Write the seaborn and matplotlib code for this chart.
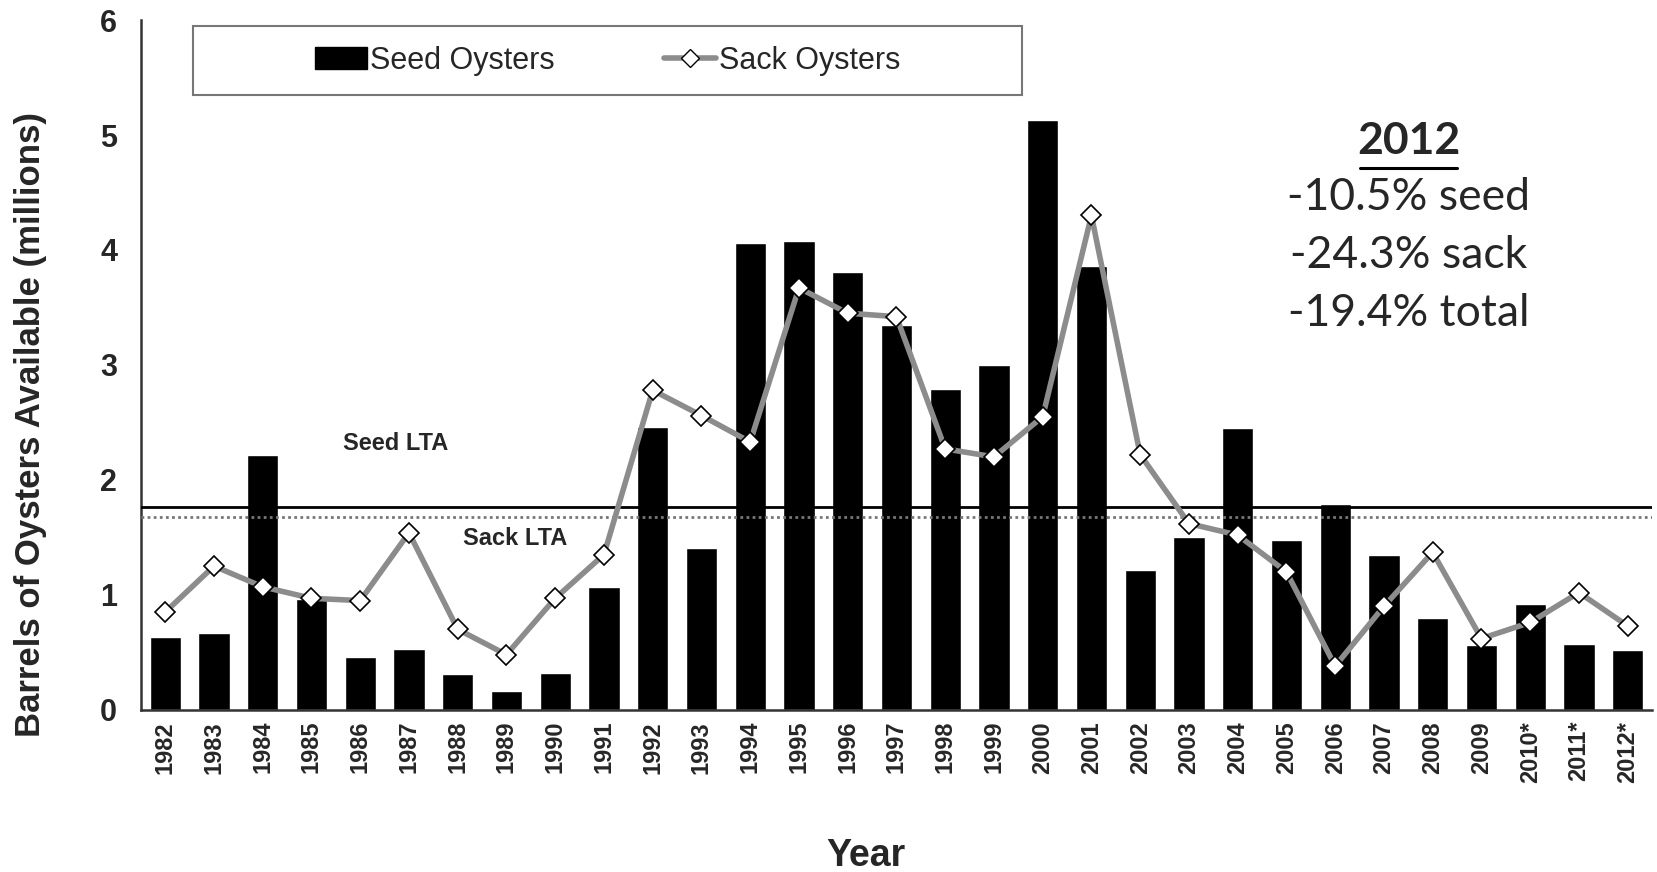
import matplotlib
matplotlib.use("Agg")
import matplotlib.pyplot as plt
import seaborn as sns
import pandas as pd
from matplotlib.patches import Patch, Rectangle
from matplotlib.lines import Line2D

# --- data (millions of barrels) ---
years = ['1982', '1983', '1984', '1985', '1986', '1987', '1988', '1989', '1990', '1991',
         '1992', '1993', '1994', '1995', '1996', '1997', '1998', '1999', '2000', '2001',
         '2002', '2003', '2004', '2005', '2006', '2007', '2008', '2009', '2010*', '2011*', '2012*']
seed = [0.63, 0.67, 2.22, 0.96, 0.46, 0.53, 0.31, 0.16, 0.32, 1.07,
        2.46, 1.41, 4.06, 4.08, 3.81, 3.35, 2.79, 3.00, 5.13, 3.86,
        1.22, 1.50, 2.45, 1.48, 1.79, 1.35, 0.80, 0.56, 0.92, 0.57, 0.52]
sack = [0.85, 1.25, 1.07, 0.97, 0.95, 1.54, 0.70, 0.48, 0.97, 1.35,
        2.78, 2.56, 2.33, 3.67, 3.45, 3.42, 2.27, 2.20, 2.55, 4.30,
        2.22, 1.62, 1.52, 1.20, 0.38, 0.90, 1.37, 0.62, 0.76, 1.02, 0.73]
seed_lta = 1.76
sack_lta = 1.68
notes = ['-10.5% seed', '-24.3% sack', '-19.4% total']

df = pd.DataFrame({'year': years, 'seed': seed, 'sack': sack, 'pos': range(len(years))})

sns.set_style('white')
plt.rcParams['font.family'] = ['Liberation Sans', 'DejaVu Sans']

fig = plt.figure(figsize=(16.57, 8.72), dpi=100)
ax = fig.add_axes([0.085, 0.186, 0.912, 0.791])

sns.barplot(data=df, x='year', y='seed', color='black', width=0.64, saturation=1, ax=ax)
ax.axhline(seed_lta, color='black', lw=2, zorder=3)
ax.axhline(sack_lta, color='#777777', lw=2, ls=(0, (1, 1.2)), zorder=3)
sns.lineplot(data=df, x='pos', y='sack', color='#8c8c8c', lw=4, marker='D', markersize=10,
             markerfacecolor='white', markeredgecolor='black', markeredgewidth=1.2, ax=ax, zorder=4)

ax.set_xlim(-0.5, len(years) - 0.5)
ax.set_ylim(0, 6)
ax.set_yticks(range(7))
ax.set_xticks([i - 0.5 for i in range(len(years) + 1)], minor=True)
ax.tick_params(axis='x', which='major', length=0, pad=8)
ax.tick_params(axis='x', which='minor', direction='inout', length=14, width=1.2, color='#333333')
ax.tick_params(axis='y', direction='inout', length=22, width=1.5, color='#333333', pad=6)
for lab in ax.get_xticklabels():
    lab.set_rotation(90)
    lab.set_fontweight('bold')
    lab.set_fontsize(17)
for lab in ax.get_yticklabels():
    lab.set_fontweight('bold')
    lab.set_fontsize(22)

for s in ['top', 'right']:
    ax.spines[s].set_visible(False)
for s in ['left', 'bottom']:
    ax.spines[s].set_color('#333333')
    ax.spines[s].set_linewidth(1.8)

ax.set_xlabel('Year', fontsize=27, fontweight='bold')
ax.set_ylabel('Barrels of Oysters Available (millions)', fontsize=25, fontweight='bold')
ax.xaxis.set_label_coords(0.480, -0.186)
ax.yaxis.set_label_coords(-0.062, 0.413)

ax.text(4.73, 2.32, 'Seed LTA', fontsize=17, fontweight='bold', ha='center', va='center')
ax.text(7.17, 1.49, 'Sack LTA', fontsize=17, fontweight='bold', ha='center', va='center')

# 2012 annotation
ax.text(0.839, 0.825, '2012', transform=ax.transAxes, fontsize=32, fontweight='bold',
        ha='center', va='center', family=['Lato', 'DejaVu Sans'])
ax.plot([0.807, 0.871], [0.786, 0.786], transform=ax.transAxes, color='black', lw=2.2, clip_on=False)
for i, t in enumerate(notes):
    ax.text(0.839, 0.743 - i * 0.084, t, transform=ax.transAxes, fontsize=32,
            ha='center', va='center', family=['Lato', 'DejaVu Sans'])

# legend box drawn separately, entries centred inside it
ax.add_patch(Rectangle((0.0344, 0.891), 0.5486, 0.100, transform=ax.transAxes, fill=True,
                       facecolor='white', edgecolor='#777777', lw=1.5, zorder=5, clip_on=False))
handles = [Patch(facecolor='black', edgecolor='black'),
           Line2D([0], [0], color='#8c8c8c', lw=4, marker='D', markersize=9,
                  markerfacecolor='white', markeredgecolor='black')]
leg = ax.legend(handles, ['Seed Oysters', 'Sack Oysters'], ncol=2, loc='center',
                bbox_to_anchor=(0.309, 0.941), fontsize=22, frameon=False,
                handlelength=1.7, handletextpad=0.1, columnspacing=3.6)
leg.set_zorder(6)

fig.savefig('out.png', dpi=100)
